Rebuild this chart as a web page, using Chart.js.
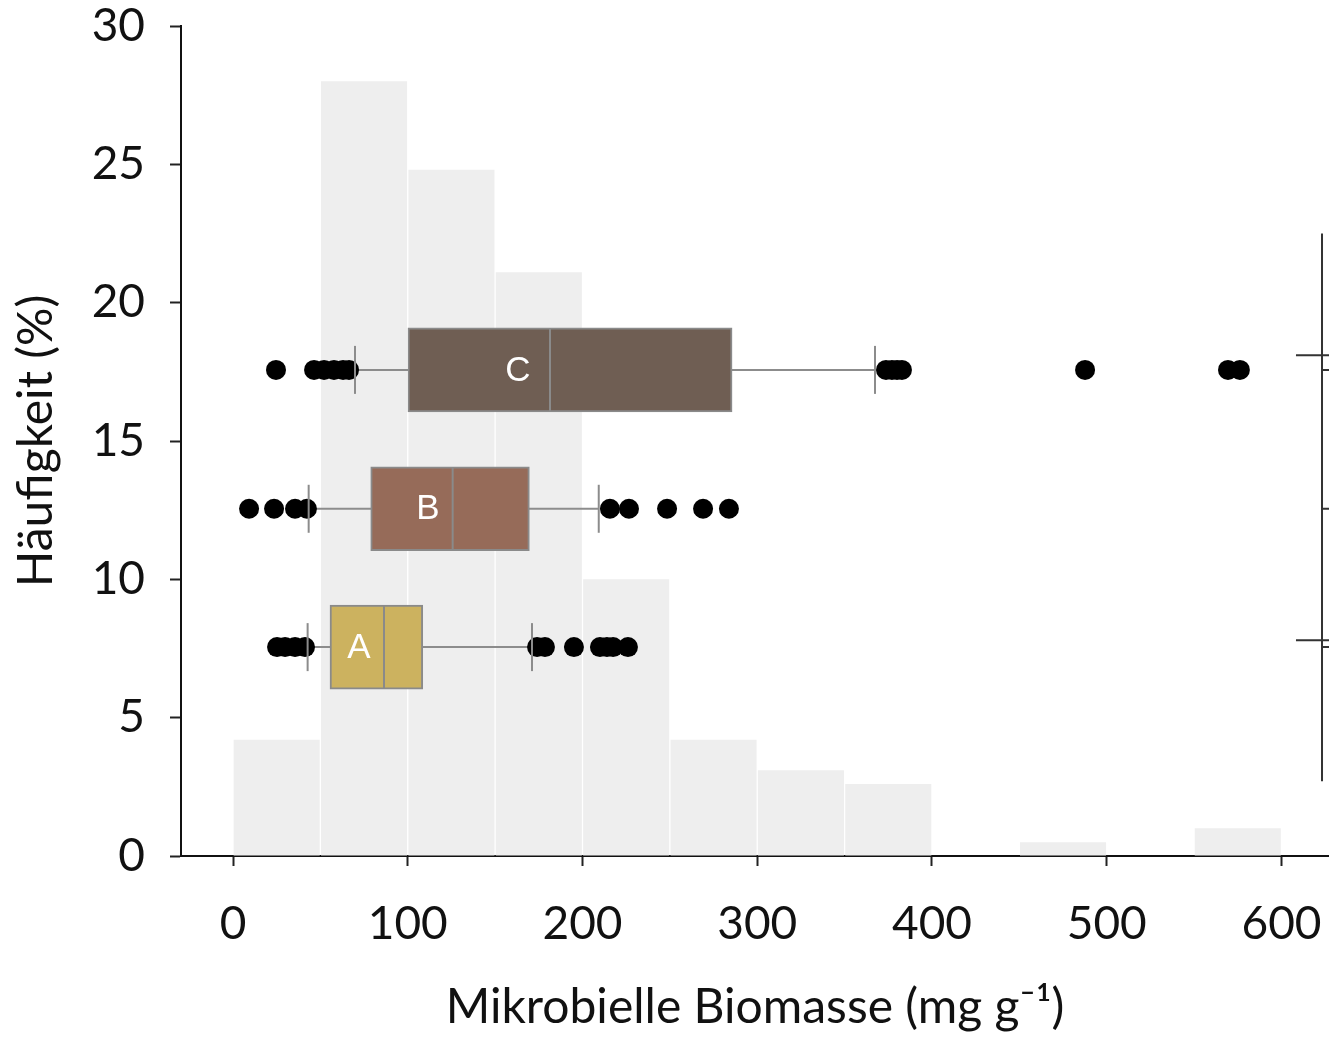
<!DOCTYPE html>
<html>
<head>
<meta charset="utf-8">
<script src="https://cdn.jsdelivr.net/npm/chart.js@4.4.0/dist/chart.umd.min.js"></script>
<style>
  html, body { margin: 0; padding: 0; background: #fff; overflow: hidden; }
  #wrap { width: 1329px; height: 1037px; position: relative; }
</style>
</head>
<body>
<div id="wrap"><canvas id="chart"></canvas></div>
<script>
// histogram, bins of 50
const binCenters = [25, 75, 125, 175, 225, 275, 325, 375, 425, 475, 525, 575];
const binPercent = [4.2, 28.0, 24.8, 21.1, 10.0, 4.2, 3.1, 2.6, 0, 0.5, 0, 1.0];
const xTicks = [0, 100, 200, 300, 400, 500, 600];

// box plots
const boxNames = ['A', 'B', 'C'];
const boxRow = [7.55, 12.55, 17.57];
const boxQ1 = [55.5, 78.8, 100.1];
const boxMedian = [86.4, 125.7, 181.4];
const boxQ3 = [108.6, 169.6, 285.6];
const whiskerLow = [42.7, 43.3, 69.8];
const whiskerHigh = [171.1, 209.3, 367.4];
const outliersA = [25.2, 29.8, 35.5, 41.2, 174, 178.5, 195.1, 210, 214, 217.5, 226];
const outliersB = [9.2, 23.5, 35.5, 42.3, 215.7, 226.6, 248.4, 269, 283.8];
const outliersC = [24.6, 46.4, 52.1, 57.8, 63, 66.4, 373.7, 377.1, 380, 382.8, 487.6, 569.4, 576.2];
const boxLabelX = [72.1, 111.6, 163];
const boxColors = ['#ccb25f', '#966b59', '#6f5e53'];

const fontFamily = "Lato, 'Open Sans', sans-serif";
const X_MIN = -29.76, X_MAX = 627.2;

const outlierPoints = [];
[outliersA, outliersB, outliersC].forEach((list, i) => {
    list.forEach(v => outlierPoints.push({ x: v, y: boxRow[i] }));
});

const datasets = [];
datasets.push({
    type: 'bar',
    data: binCenters.map((c, i) => ({ x: c, y: binPercent[i] })),
    backgroundColor: '#eeeeee',
    barPercentage: 0.985,
    categoryPercentage: 1,
    grouped: false,
    order: 10
});
boxNames.forEach((n, i) => {
    datasets.push({
        type: 'line',
        data: [{ x: whiskerLow[i], y: boxRow[i] }, { x: whiskerHigh[i], y: boxRow[i] }],
        borderColor: '#8c8c8c',
        borderWidth: 2,
        pointRadius: 0,
        order: 8
    });
});
datasets.push({
    type: 'scatter',
    data: outlierPoints,
    backgroundColor: '#000',
    borderWidth: 0,
    pointRadius: 10,
    order: 7
});
datasets.push({
    type: 'bar',
    indexAxis: 'y',
    xAxisID: 'xb',
    yAxisID: 'yb',
    data: boxNames.map((n, i) => ({ y: boxRow[i], x: [boxQ1[i], boxQ3[i]] })),
    backgroundColor: boxColors,
    borderColor: '#8a8a8a',
    borderWidth: 2,
    borderSkipped: false,
    barThickness: 84,
    grouped: false,
    order: 5
});
datasets.push({
    type: 'scatter',
    data: boxNames.map((n, i) => ({ x: boxMedian[i], y: boxRow[i] })),
    pointStyle: 'line',
    rotation: 90,
    pointRadius: 41,
    borderColor: '#8a8a8a',
    borderWidth: 2,
    order: 4
});
const capPoints = [];
boxNames.forEach((n, i) => {
    capPoints.push({ x: whiskerLow[i], y: boxRow[i] });
    capPoints.push({ x: whiskerHigh[i], y: boxRow[i] });
});
datasets.push({
    type: 'scatter',
    data: capPoints,
    pointStyle: 'line',
    rotation: 90,
    pointRadius: 24,
    borderColor: '#8c8c8c',
    borderWidth: 2,
    order: 3
});

// white letters inside the boxes
const boxLabels = {
    id: 'boxLabels',
    afterDatasetsDraw(chart) {
        const { ctx, scales: { x, y } } = chart;
        ctx.save();
        ctx.fillStyle = '#fff';
        ctx.font = "35px 'Liberation Sans', Arial, sans-serif";
        ctx.textAlign = 'center';
        ctx.textBaseline = 'middle';
        boxNames.forEach((n, i) => {
            ctx.fillText(n, x.getPixelForValue(boxLabelX[i]), y.getPixelForValue(boxRow[i]) + 1);
        });
        ctx.restore();
    }
};

// cut-off axis of the neighbouring panel at the right edge
const sideAxis = {
    id: 'sideAxis',
    afterDraw(chart, args, opts) {
        const { ctx, scales: { x, y } } = chart;
        const px = x.getPixelForValue(opts.at);
        ctx.save();
        ctx.strokeStyle = '#333';
        ctx.lineWidth = 2;
        ctx.beginPath();
        ctx.moveTo(px, y.getPixelForValue(opts.top));
        ctx.lineTo(px, y.getPixelForValue(opts.bottom));
        opts.longTicks.forEach(v => {
            const py = y.getPixelForValue(v);
            ctx.moveTo(x.getPixelForValue(opts.longFrom), py);
            ctx.lineTo(chart.width, py);
        });
        boxRow.forEach(v => {
            const py = y.getPixelForValue(v);
            ctx.moveTo(px, py);
            ctx.lineTo(chart.width, py);
        });
        ctx.stroke();
        ctx.restore();
    }
};

new Chart(document.getElementById('chart'), {
    type: 'bar',
    data: { datasets: datasets },
    plugins: [boxLabels, sideAxis],
    options: {
        responsive: true,
        maintainAspectRatio: false,
        animation: false,
        layout: { autoPadding: false, padding: { top: 26, left: 0, right: 0, bottom: 0 } },
        plugins: {
            legend: { display: false },
            tooltip: { enabled: false },
            sideAxis: { at: 623.2, top: 22.5, bottom: 2.7, longTicks: [18.1, 7.8], longFrom: 608.3 }
        },
        scales: {
            x: {
                type: 'linear',
                min: X_MIN,
                max: X_MAX,
                offset: false,
                afterBuildTicks: s => { s.ticks = xTicks.map(v => ({ value: v })); },
                afterFit: s => { s.height = 181; s.paddingLeft = 0; s.paddingRight = 0; },
                grid: { display: true, offset: false, drawOnChartArea: false, drawTicks: true, tickLength: 10, tickWidth: 2, tickColor: '#222' },
                border: { display: true, color: '#111', width: 2 },
                ticks: { color: '#111', padding: 31, font: { family: fontFamily, size: 46 } },
                title: {
                    display: true,
                    text: 'Mikrobielle Biomasse (mg g\u207B\u00B9)',
                    color: '#111',
                    font: { family: fontFamily, size: 48 },
                    padding: { top: 0, bottom: 1 }
                }
            },
            y: {
                type: 'linear',
                min: 0,
                max: 30,
                offset: false,
                afterFit: s => { s.width = 181; s.paddingTop = 0; s.paddingBottom = 0; },
                grid: { display: true, offset: false, drawOnChartArea: false, drawTicks: true, tickLength: 11, tickWidth: 2, tickColor: '#222' },
                border: { display: true, color: '#111', width: 2 },
                ticks: { stepSize: 5, color: '#111', padding: 25, font: { family: fontFamily, size: 46, lineHeight: 1 } },
                title: {
                    display: true,
                    text: 'Häufigkeit (%)',
                    color: '#111',
                    font: { family: fontFamily, size: 48 },
                    padding: { top: 8, bottom: 0 }
                }
            },
            xb: { type: 'linear', axis: 'x', display: false, offset: false, min: X_MIN, max: X_MAX },
            yb: { type: 'linear', axis: 'y', display: false, offset: false, min: 0, max: 30 }
        }
    }
});
</script>
</body>
</html>
